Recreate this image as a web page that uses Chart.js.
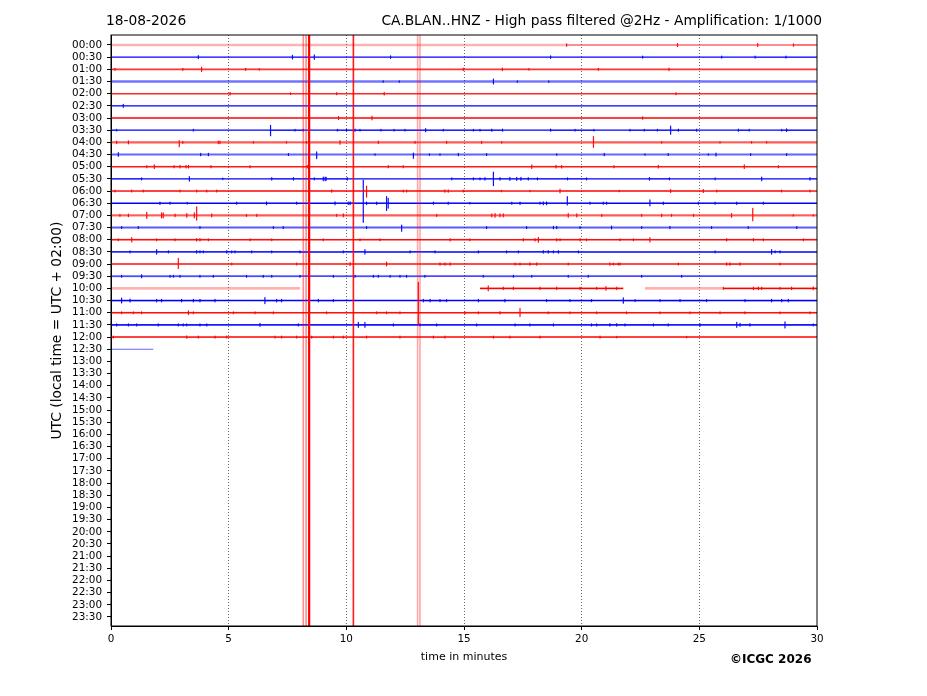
<!DOCTYPE html>
<html>
<head>
<meta charset="utf-8">
<script src="https://cdn.jsdelivr.net/npm/chart.js@4.4.1/dist/chart.umd.min.js"></script>
<style>
  html, body { margin: 0; padding: 0; background: #fff; }
  #wrap { width: 927px; height: 696px; }
</style>
</head>
<body>
<div id="wrap"><canvas id="heli" width="927" height="696"></canvas></div>
<script>
const dateLabel = "18-08-2026";
const stationTitle = "CA.BLAN..HNZ - High pass filtered @2Hz - Amplification: 1/1000";
const copyright = "©ICGC 2026";

const rowLabels = [
  "00:00", "00:30", "01:00", "01:30", "02:00", "02:30", "03:00", "03:30",
  "04:00", "04:30", "05:00", "05:30", "06:00", "06:30", "07:00", "07:30",
  "08:00", "08:30", "09:00", "09:30", "10:00", "10:30", "11:00", "11:30",
  "12:00", "12:30", "13:00", "13:30", "14:00", "14:30", "15:00", "15:30",
  "16:00", "16:30", "17:00", "17:30", "18:00", "18:30", "19:00", "19:30",
  "20:00", "20:30", "21:00", "21:30", "22:00", "22:30", "23:00", "23:30",
];
const minuteTicks = [0, 5, 10, 15, 20, 25, 30];

// events per trace: [minute, amplitude up, amplitude down] in row heights
const ev0000 = [[19.36, 0.1], [24.07, 0.12], [27.48, 0.12], [29.0, 0.1]];
const ev0030 = [[3.71, 0.12], [7.71, 0.15], [8.64, 0.18], [11.88, 0.1], [18.68, 0.1], [22.59, 0.08], [25.95, 0.08], [27.37, 0.08], [28.68, 0.08]];
const ev0100 = [[0.17, 0.08], [3.05, 0.08], [3.85, 0.18], [5.72, 0.08], [6.3, 0.06], [14.97, 0.1], [16.63, 0.1], [17.76, 0.06], [20.71, 0.08], [23.71, 0.1]];
const ev0130 = [[11.57, 0.06], [12.25, 0.06], [16.25, 0.2], [17.27, 0.06], [18.6, 0.06]];
const ev0200 = [[5.06, 0.1], [7.63, 0.06], [9.59, 0.08], [11.61, 0.1], [24.01, 0.08]];
const ev0230 = [[0.52, 0.12]];
const ev0300 = [[9.67, 0.12], [11.09, 0.15], [22.59, 0.1]];
const ev0330 = [[0.24, 0.06], [3.5, 0.06], [6.78, 0.4, 0.45], [7.82, 0.06], [8.17, 0.06], [9.62, 0.06], [10.01, 0.06], [10.37, 0.08], [10.58, 0.06], [11.47, 0.06], [12.03, 0.06], [12.49, 0.06], [13.37, 0.12], [14.12, 0.06], [15.4, 0.06], [15.68, 0.06], [16.18, 0.08], [16.64, 0.08], [18.68, 0.08], [19.72, 0.06], [20.52, 0.06], [22.05, 0.06], [22.66, 0.06], [23.22, 0.06], [23.78, 0.33], [24.11, 0.08], [24.89, 0.08], [26.66, 0.08], [27.12, 0.06], [28.5, 0.06], [28.71, 0.1]];
const ev0400 = [[0.24, 0.1], [0.74, 0.12], [2.9, 0.15, 0.36], [3.05, 0.08], [4.56, 0.1], [4.63, 0.1], [6.05, 0.06], [7.46, 0.06], [8.31, 0.06], [9.73, 0.15], [11.36, 0.1], [12.92, 0.08], [14.26, 0.08], [15.75, 0.08], [16.6, 0.06], [20.5, 0.47, 0.41], [23.4, 0.06], [25.88, 0.06], [27.22, 0.06], [27.86, 0.06]];
const ev0430 = [[0.31, 0.15], [3.81, 0.1], [4.14, 0.1], [7.54, 0.08], [8.74, 0.22, 0.33], [11.22, 0.06], [12.85, 0.12, 0.3], [13.53, 0.06], [13.98, 0.06], [14.76, 0.1], [15.96, 0.08], [18.94, 0.06], [20.96, 0.1], [22.69, 0.06], [23.68, 0.08], [25.38, 0.06], [25.71, 0.12], [27.18, 0.08], [28.71, 0.08]];
const ev0500 = [[1.52, 0.08], [1.84, 0.15], [2.68, 0.08], [2.93, 0.1], [3.19, 0.1], [3.29, 0.1], [4.25, 0.08], [5.91, 0.08], [8.34, 0.1], [11.78, 0.08], [12.42, 0.08], [17.88, 0.15], [18.91, 0.1], [19.15, 0.1], [21.37, 0.08], [23.26, 0.1], [26.91, 0.15], [28.36, 0.08]];
const ev0530 = [[1.3, 0.08], [3.33, 0.18], [4.75, 0.06], [6.83, 0.1], [7.75, 0.1], [8.64, 0.08], [9.02, 0.15], [9.1, 0.15], [9.14, 0.12], [10.04, 0.1], [14.48, 0.08], [15.4, 0.08], [15.68, 0.08], [15.89, 0.1], [16.25, 0.55, 0.55], [16.53, 0.1], [16.95, 0.12], [17.24, 0.12], [17.42, 0.12], [17.73, 0.1], [18.12, 0.08], [19.4, 0.08], [20.21, 0.08], [22.88, 0.1], [23.73, 0.08], [25.67, 0.08], [27.65, 0.15], [29.7, 0.1]];
const ev0600 = [[0.17, 0.08], [0.88, 0.08], [1.37, 0.08], [2.93, 0.08], [3.64, 0.08], [4.07, 0.08], [4.49, 0.08], [9.38, 0.1], [10.86, 0.4, 0.5], [12.42, 0.08], [12.56, 0.08], [14.19, 0.1], [14.33, 0.1], [14.97, 0.08], [16.6, 0.06], [17.8, 0.06], [19.08, 0.15], [21.6, 0.06], [23.78, 0.12], [25.17, 0.12], [25.74, 0.08], [28.5, 0.08], [29.7, 0.08]];
const ev0630 = [[2.08, 0.1], [2.51, 0.08], [3.24, 0.06], [5.34, 0.08], [6.61, 0.12], [7.89, 0.08], [9.52, 0.12], [10.08, 0.1], [10.16, 0.12], [10.72, 1.9, 1.56], [10.86, 0.1], [11.29, 0.1], [11.71, 0.55, 0.6], [11.78, 0.4, 0.4], [13.7, 0.08], [14.33, 0.08], [15.25, 0.06], [17.03, 0.08], [17.38, 0.1], [18.23, 0.08], [18.37, 0.12], [18.51, 0.12], [19.39, 0.55, 0.15], [20.35, 0.08], [20.92, 0.08], [21.06, 0.08], [22.9, 0.27, 0.22], [23.47, 0.1], [24.96, 0.08], [25.67, 0.08], [26.59, 0.1], [27.72, 0.08]];
const ev0700 = [[0.38, 0.08], [0.74, 0.1], [1.52, 0.25], [2.15, 0.2], [2.22, 0.2], [2.72, 0.1], [3.22, 0.15], [3.54, 0.2], [3.64, 0.7, 0.4], [4.28, 0.12], [5.76, 0.08], [6.19, 0.08], [9.59, 0.08], [9.87, 0.12], [13.84, 0.08], [16.18, 0.12], [16.32, 0.15], [16.53, 0.12], [16.67, 0.12], [19.43, 0.15], [19.79, 0.12], [20.85, 0.08], [22.55, 0.08], [23.4, 0.1], [23.82, 0.08], [24.75, 0.08], [26.37, 0.15], [27.27, 0.58, 0.44], [28.99, 0.06], [29.84, 0.06]];
const ev0730 = [[0.45, 0.08], [1.16, 0.08], [3.78, 0.08], [6.9, 0.08], [7.32, 0.08], [10.86, 0.08], [12.35, 0.2, 0.3], [15.96, 0.08], [17.66, 0.08], [18.8, 0.1], [18.94, 0.1], [19.93, 0.08], [21.27, 0.12], [22.55, 0.08], [23.75, 0.1], [25.52, 0.08], [27.08, 0.08], [29.14, 0.08]];
const ev0800 = [[0.31, 0.08], [0.88, 0.18], [1.94, 0.08], [2.72, 0.08], [3.64, 0.1], [3.78, 0.1], [4.14, 0.08], [5.91, 0.08], [6.83, 0.08], [9.02, 0.08], [10.58, 0.08], [11.43, 0.08], [14.41, 0.1], [15.25, 0.08], [17.52, 0.1], [18.02, 0.1], [18.16, 0.2], [18.94, 0.1], [19.08, 0.08], [19.93, 0.1], [20.21, 0.08], [21.63, 0.08], [22.2, 0.08], [22.9, 0.18], [26.16, 0.1], [27.3, 0.1], [27.72, 0.08], [29.42, 0.08]];
const ev0830 = [[0.81, 0.08], [1.94, 0.18], [2.44, 0.08], [3.64, 0.1], [3.78, 0.08], [3.92, 0.08], [4.92, 0.1], [5.13, 0.08], [5.27, 0.08], [5.98, 0.08], [6.83, 0.08], [8.03, 0.08], [9.87, 0.08], [10.79, 0.18], [12.71, 0.08], [13.77, 0.08], [15.61, 0.08], [16.81, 0.08], [17.31, 0.08], [18.37, 0.1], [18.58, 0.1], [18.8, 0.08], [19.01, 0.1], [19.86, 0.08], [25.67, 0.08], [28.07, 0.18], [28.22, 0.08], [28.43, 0.08]];
const ev0900 = [[2.86, 0.47, 0.36], [5.13, 0.08], [7.89, 0.08], [10.16, 0.12], [11.71, 0.15], [13.98, 0.1], [14.19, 0.1], [14.41, 0.1], [17.17, 0.08], [17.38, 0.08], [17.8, 0.1], [18.09, 0.1], [19.43, 0.08], [21.2, 0.1], [21.35, 0.08], [21.56, 0.08], [21.63, 0.08], [24.11, 0.08], [26.16, 0.1], [26.3, 0.1], [26.73, 0.1], [28.43, 0.08]];
const ev0930 = [[0.45, 0.08], [1.3, 0.12], [2.51, 0.08], [2.65, 0.08], [2.93, 0.08], [3.78, 0.08], [4.35, 0.08], [5.76, 0.08], [6.47, 0.08], [6.83, 0.08], [8.03, 0.08], [9.45, 0.08], [10.37, 0.08], [11.15, 0.08], [11.36, 0.08], [11.86, 0.08], [12.28, 0.08], [12.56, 0.08], [13.34, 0.08], [15.82, 0.08], [17.1, 0.08], [17.88, 0.08], [19.43, 0.08], [20.28, 0.08], [22.55, 0.08], [24.25, 0.08]];
const ev1000 = [[13.06, 0.5, 2.9], [16.03, 0.2], [16.67, 0.1], [17.1, 0.1], [18.23, 0.1], [18.94, 0.1], [19.93, 0.1], [20.64, 0.08], [21.03, 0.15], [21.49, 0.1], [26.02, 0.08], [27.3, 0.1], [27.51, 0.1], [27.65, 0.1], [28.43, 0.08], [28.92, 0.1], [29.84, 0.12]];
const ev1030 = [[0.45, 0.2], [0.81, 0.12], [1.94, 0.1], [2.15, 0.1], [3.0, 0.1], [3.5, 0.1], [3.78, 0.1], [4.42, 0.1], [6.54, 0.25], [7.04, 0.1], [7.25, 0.1], [8.81, 0.1], [9.45, 0.08], [13.27, 0.1], [13.56, 0.1], [13.98, 0.08], [14.26, 0.08], [15.61, 0.1], [16.74, 0.1], [18.51, 0.08], [19.5, 0.08], [20.42, 0.08], [21.77, 0.22], [22.27, 0.08], [23.33, 0.08], [24.18, 0.08], [25.31, 0.08], [26.94, 0.08], [28.07, 0.1], [28.5, 0.1], [28.78, 0.1]];
const ev1100 = [[0.45, 0.08], [0.95, 0.08], [1.3, 0.08], [3.29, 0.15], [3.5, 0.08], [5.2, 0.08], [6.12, 0.08], [6.9, 0.08], [9.16, 0.08], [11.29, 0.08], [11.71, 0.08], [12.28, 0.08], [15.04, 0.08], [15.61, 0.08], [16.53, 0.1], [17.38, 0.35, 0.3], [18.58, 0.08], [19.5, 0.08], [20.64, 0.08], [21.91, 0.08], [23.33, 0.08], [24.6, 0.08], [25.88, 0.08], [26.94, 0.08], [28.43, 0.08], [29.7, 0.08]];
const ev1130 = [[0.24, 0.08], [0.74, 0.08], [1.09, 0.08], [2.01, 0.08], [2.86, 0.08], [3.07, 0.08], [3.22, 0.08], [3.78, 0.08], [4.07, 0.08], [6.33, 0.12], [7.96, 0.08], [10.51, 0.2], [10.79, 0.2], [12.0, 0.08], [13.13, 0.08], [13.84, 0.08], [15.54, 0.08], [17.17, 0.08], [17.8, 0.08], [18.8, 0.08], [20.42, 0.08], [20.64, 0.08], [21.2, 0.1], [21.49, 0.1], [21.84, 0.08], [23.05, 0.08], [23.68, 0.08], [25.03, 0.08], [26.59, 0.2], [26.73, 0.12], [27.15, 0.1], [28.64, 0.25], [29.84, 0.08]];
const ev1200 = [[0.1, 0.08], [3.22, 0.1], [3.71, 0.08], [4.42, 0.08], [4.92, 0.08], [6.97, 0.08], [7.25, 0.08], [7.89, 0.08], [8.53, 0.08], [9.45, 0.08], [9.87, 0.08], [10.86, 0.08], [12.28, 0.08], [13.7, 0.08], [14.19, 0.08], [16.25, 0.08], [16.95, 0.08], [18.23, 0.08], [20.78, 0.08], [21.49, 0.06], [24.46, 0.06]];
const ev1230 = [];

const traces = [
  ev0000, ev0030, ev0100, ev0130, ev0200, ev0230, ev0300, ev0330,
  ev0400, ev0430, ev0500, ev0530, ev0600, ev0630, ev0700, ev0730,
  ev0800, ev0830, ev0900, ev0930, ev1000, ev1030, ev1100, ev1130,
  ev1200, ev1230,
];

// minutes with recorded data (default: whole row)
const spans1000 = [[0, 8.03], [13.06, 13.06], [15.68, 21.77], [22.69, 30]];
const spans1230 = [[0, 1.8]];
const rowSpans = { 20: spans1000, 25: spans1230 };

// clipped spikes that cross the whole plot (minutes)
const clippedSpikes = [8.17, 8.29, 8.42, 10.3, 13.03, 13.13];

// styles
const yTop = -0.82;
const yBottom = 47.74;
const rowWidth = [1.2, 1.3, 1.8, 2.4, 1.5, 1.3, 1.4, 1.4, 2.1, 2.1, 1.6, 1.4, 1.4, 1.5, 2.1, 2, 1.6, 1.5, 1.6, 1.8, 1.6, 1.6, 1.6, 1.8, 1.5, 1.2];
const rowAlpha = [0.9, 1, 0.8, 0.55, 0.85, 1, 1, 1, 0.65, 0.6, 0.9, 1, 1, 1, 0.65, 0.65, 0.95, 1, 0.95, 0.7, 1, 1, 0.95, 0.9, 1, 0.6];
const faintParts = { 0: [[0, 10.1]], 20: [[0, 8.03], [22.69, 25]] };
const spikeAlpha = [0.45, 0.45, 1, 0.9, 0.35, 0.35];
const spikeWidth = [1.6, 1.6, 2.2, 1.6, 1.6, 1.6];

const FONT = "'DejaVu Sans', 'Liberation Sans', sans-serif";

function rowColor(i, a) {
  return i % 2 === 0 ? `rgba(255,0,0,${a})` : `rgba(0,0,255,${a})`;
}

function buildTrace(row) {
  const spans = rowSpans[row] || [[0, 30]];
  const events = traces[row];
  const pts = [];
  spans.forEach(([a, b], k) => {
    if (k > 0) pts.push({ x: a, y: null });
    pts.push({ x: a, y: row });
    events.filter(e => e[0] >= a && e[0] <= b).forEach(e => {
      const up = e[1];
      const down = e.length > 2 ? e[2] : e[1];
      pts.push({ x: e[0], y: row }, { x: e[0], y: row - up }, { x: e[0], y: row + down }, { x: e[0], y: row });
    });
    pts.push({ x: b, y: row });
  });
  return pts;
}

function isFaint(row, x) {
  const parts = faintParts[row];
  return !!parts && parts.some(([a, b]) => x >= a && x < b);
}

function isSpike(ctx) {
  return ctx.p0.parsed.x === ctx.p1.parsed.x;
}

const datasets = [];

clippedSpikes.forEach((t, k) => {
  datasets.push({
    data: [{ x: t, y: yTop }, { x: t, y: yBottom }],
    borderColor: `rgba(255,0,0,${spikeAlpha[k]})`,
    borderWidth: spikeWidth[k],
    order: 0,
  });
});

traces.forEach((_, row) => {
  datasets.push({
    data: buildTrace(row),
    borderColor: rowColor(row, rowAlpha[row]),
    borderWidth: rowWidth[row],
    order: 1,
    segment: {
      borderColor: ctx => isSpike(ctx) ? rowColor(row, 0.95)
        : isFaint(row, ctx.p0.parsed.x) ? rowColor(row, 0.3) : undefined,
      borderWidth: ctx => isSpike(ctx) ? 1.2
        : isFaint(row, ctx.p0.parsed.x) ? 2.6 : undefined,
    },
  });
});

const frameAndText = {
  id: "frameAndText",
  afterDraw(chart) {
    const { ctx, chartArea: a } = chart;
    ctx.save();
    ctx.strokeStyle = "#000";
    ctx.lineWidth = 1;
    ctx.strokeRect(a.left, a.top, a.right - a.left, a.bottom - a.top);
    ctx.fillStyle = "#000";
    ctx.textBaseline = "alphabetic";
    ctx.font = `13.8px ${FONT}`;
    ctx.textAlign = "left";
    ctx.fillText(dateLabel, 106, 25);
    ctx.textAlign = "right";
    ctx.fillText(stationTitle, 822, 25);
    ctx.font = `bold 12px ${FONT}`;
    ctx.textAlign = "left";
    ctx.fillText(copyright, 730, 663);
    ctx.restore();
  },
};

new Chart(document.getElementById("heli"), {
  type: "line",
  data: { datasets },
  plugins: [frameAndText],
  options: {
    responsive: false,
    animation: false,
    devicePixelRatio: 1,
    parsing: false,
    normalized: true,
    layout: { padding: { left: 45, right: 110, top: 35, bottom: 28 } },
    plugins: {
      legend: { display: false },
      tooltip: { enabled: false },
    },
    elements: {
      point: { radius: 0 },
      line: { tension: 0, borderJoinStyle: "round", fill: false },
    },
    scales: {
      x: {
        type: "linear",
        min: 0,
        max: 30,
        afterBuildTicks: s => { s.ticks = minuteTicks.map(v => ({ value: v })); },
        afterFit: s => { s.height = 42; },
        ticks: { font: { family: FONT, size: 10.4 }, color: "#000", padding: 3, maxRotation: 0 },
        grid: {
          drawOnChartArea: true,
          color: ctx => (ctx.tick && (ctx.tick.value === 0 || ctx.tick.value === 30)) ? "rgba(0,0,0,0)" : "#444",
          lineWidth: 0.8,
          tickColor: "#000",
          tickLength: 4,
          tickWidth: 1,
        },
        border: { display: true, color: "#000", width: 1, dash: [1, 2] },
        title: {
          display: true,
          text: "time in minutes",
          font: { family: FONT, size: 11 },
          color: "#000",
          padding: { top: 2, bottom: 4 },
        },
      },
      y: {
        type: "linear",
        reverse: true,
        min: yTop,
        max: yBottom,
        afterBuildTicks: s => { s.ticks = rowLabels.map((_, i) => ({ value: i })); },
        afterFit: s => { s.width = 66; },
        ticks: {
          autoSkip: false,
          callback: v => rowLabels[v],
          font: { family: FONT, size: 10.4 },
          color: "#000",
          padding: 5,
        },
        grid: { drawOnChartArea: false, tickColor: "#000", tickLength: 4, tickWidth: 1 },
        border: { display: true, color: "#000", width: 1 },
        title: {
          display: true,
          text: "UTC (local time = UTC + 02:00)",
          font: { family: FONT, size: 13.8 },
          color: "#000",
        },
      },
    },
  },
});
</script>
</body>
</html>
